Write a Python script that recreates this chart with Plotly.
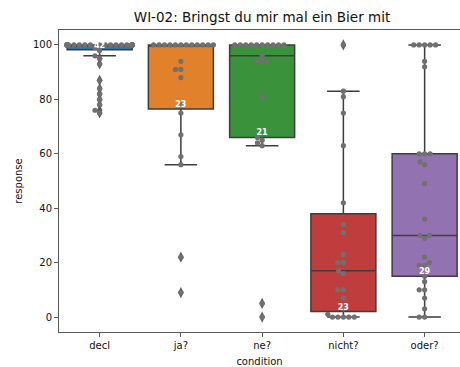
import numpy as np
import plotly.graph_objects as go

# ---- data -------------------------------------------------------------
categories = ["decl", "ja?", "ne?", "nicht?", "oder?"]

decl = [75, 76, 78, 80, 82, 84, 87, 93, 95, 96, 98, 99] + [100] * 30
ja = [9, 22, 56, 59, 67, 75, 78, 88, 91, 91, 94] + [100] * 12
ne = [0, 5, 63, 64, 65, 66, 81, 94, 94, 94, 96] + [100] * 10
nicht = [0, 0, 0, 0, 0, 1, 3, 7, 10, 10, 16, 17, 20, 20, 23, 31, 34, 42,
         63, 75, 81, 83, 100]
oder = [0, 0, 3, 7, 10, 10, 13, 15, 19, 19, 20, 22, 29, 30, 30, 36, 49,
        56, 57, 60, 60, 60, 92, 94, 100, 100, 100, 100, 100]

responses = [decl, ja, ne, nicht, oder]
box_colors = ["#3274a1", "#e1812c", "#3a923a", "#c03d3e", "#9372b2"]

# ---- layout geometry ---------------------------------------------------
W, H = 460, 367
M_L, M_R, M_T, M_B = 59, 0, 30, 35
PLOT_W = W - M_L - M_R
PLOT_H = H - M_T - M_B
PX_PER_X = 81.25                      # pixels per category step
X_RANGE = [-0.5, -0.5 + PLOT_W / PX_PER_X]
Y_RANGE = [-5.5, 105.5]
PX_PER_Y = PLOT_H / (Y_RANGE[1] - Y_RANGE[0])

LINE = "#3d3d3d"
POINT = "#707070"
DOT = 5.2                             # swarm marker diameter (px)
BOX_W = 0.8


def swarm(values, diam, half_width_px):
    """Beeswarm layout in pixel space; returns sorted values and x offsets."""
    vals = np.sort(np.asarray(values, dtype=float))
    placed = []
    for v in vals:
        y = v * PX_PER_Y
        neigh = []
        for px, py in reversed(placed):
            if y - py < diam:
                neigh.append((px, py))
            else:
                break
        cands = [0.0]
        left_first = True
        for px, py in neigh:
            dx = np.sqrt(max(diam ** 2 - (y - py) ** 2, 0.0)) * 1.05
            pair = [px - dx, px + dx] if left_first else [px + dx, px - dx]
            cands.extend(pair)
            left_first = not left_first
        cands.sort(key=abs)
        chosen = cands[0]
        for c in cands:
            if all((c - px) ** 2 + (y - py) ** 2 >= diam ** 2 - 1e-9 for px, py in neigh):
                chosen = c
                break
        placed.append((chosen, y))
    xs = np.clip([p[0] for p in placed], -half_width_px, half_width_px)
    return vals, xs / PX_PER_X


fig = go.Figure()

flier_x, flier_y = [], []
label_x, label_y, label_t = [], [], []
pts_x, pts_y = [], []

for i, (vals, color) in enumerate(zip(responses, box_colors)):
    arr = np.asarray(vals, dtype=float)
    q1, med, q3 = np.percentile(arr, [25, 50, 75])
    iqr = q3 - q1
    lo_lim, hi_lim = q1 - 1.5 * iqr, q3 + 1.5 * iqr
    lower = arr[arr >= lo_lim].min()
    upper = arr[arr <= hi_lim].max()
    fl = arr[(arr < lo_lim) | (arr > hi_lim)]

    fig.add_trace(go.Box(
        x=[i], q1=[q1], median=[med], q3=[q3],
        lowerfence=[lower], upperfence=[upper],
        width=BOX_W, whiskerwidth=0.5,
        fillcolor=color, line=dict(color=LINE, width=1.5),
        boxpoints=False, showlegend=False, hoverinfo="skip",
    ))

    flier_x += [i] * len(fl)
    flier_y += list(fl)

    label_x.append(i)
    label_y.append(q1)
    label_t.append(str(len(arr)))

    sv, off = swarm(arr, DOT, BOX_W / 2 * PX_PER_X)
    pts_x += list(i + off)
    pts_y += list(sv)

# outliers as thin diamonds
fig.add_trace(go.Scatter(
    x=flier_x, y=flier_y, mode="markers",
    marker=dict(symbol="diamond-tall", size=8, color="#5c5c5c", line=dict(width=0)),
    showlegend=False, hoverinfo="skip",
))

# individual responses
fig.add_trace(go.Scatter(
    x=pts_x, y=pts_y, mode="markers",
    marker=dict(symbol="circle", size=DOT, color=POINT, line=dict(width=0)),
    showlegend=False, hoverinfo="skip",
))

# count labels sitting on the lower quartile
fig.add_trace(go.Scatter(
    x=label_x, y=label_y, mode="text", text=label_t,
    textposition="top center",
    textfont=dict(family="DejaVu Sans", size=8, color="white", weight="bold"),
    showlegend=False, hoverinfo="skip",
))

AXIS_LINE = "#5a5a5a"
fig.update_layout(
    width=W, height=H,
    margin=dict(l=M_L, r=M_R, t=M_T, b=M_B, autoexpand=False),
    paper_bgcolor="white", plot_bgcolor="white",
    boxmode="overlay",
    font=dict(family="DejaVu Sans", size=10, color="#111111"),
    title=dict(text="WI-02: Bringst du mir mal ein Bier mit",
               x=(M_L + PLOT_W / 2 + 2.5) / W, xanchor="center",
               y=1 - 17 / H, yanchor="middle", yref="container",
               font=dict(size=13.5, color="#111111")),
    xaxis=dict(
        range=X_RANGE, tickmode="array", tickvals=list(range(len(categories))),
        ticktext=categories, showgrid=False, zeroline=False,
        showline=True, linecolor=AXIS_LINE, linewidth=1, mirror=True,
        ticks="outside", ticklen=4, tickcolor=AXIS_LINE,
        title=dict(text="condition", standoff=12, font=dict(size=10)),
        automargin=False,
    ),
    yaxis=dict(
        range=Y_RANGE, tickvals=[0, 20, 40, 60, 80, 100],
        showgrid=False, zeroline=False,
        showline=True, linecolor=AXIS_LINE, linewidth=1,
        ticks="outside", ticklen=4, tickcolor=AXIS_LINE,
        title=dict(text="response", standoff=8, font=dict(size=10)),
        automargin=False,
    ),
)

fig.write_html("out.html")
